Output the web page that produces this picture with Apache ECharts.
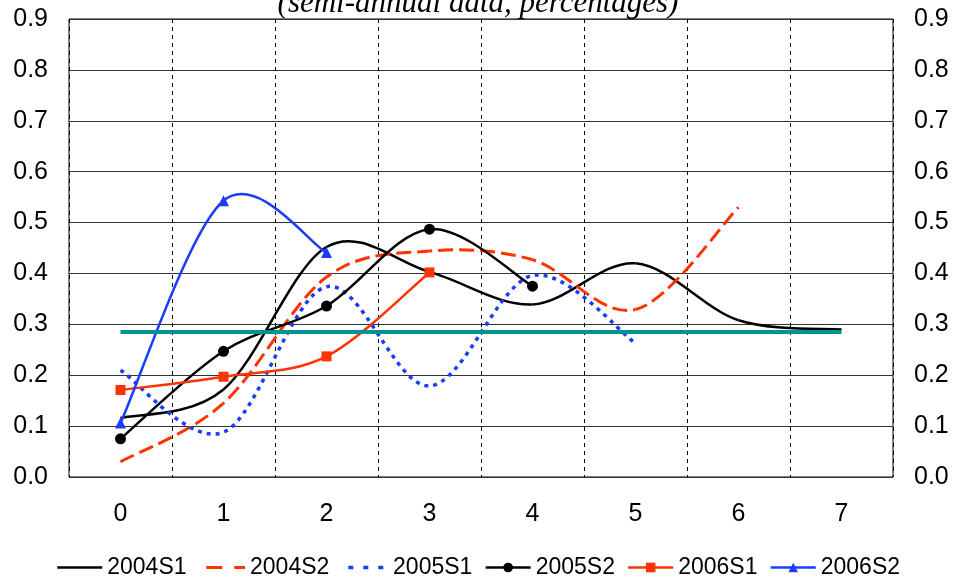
<!DOCTYPE html>
<html>
<head>
<meta charset="utf-8">
<script src="https://cdn.jsdelivr.net/npm/echarts@6/dist/echarts.min.js"></script>
<style>
html,body{margin:0;padding:0;background:#fff;}
#chart{width:956px;height:581px;}
</style>
</head>
<body>
<div id="chart"></div>
<script>
var categories = ['0', '1', '2', '3', '4', '5', '6', '7'];
var s2004S1 = [0.116, 0.172, 0.452, 0.403, 0.339, 0.42, 0.308, 0.29];
var s2004S2 = [0.03, 0.145, 0.393, 0.444, 0.427, 0.329, 0.53];
var s2005S1 = [0.21, 0.088, 0.374, 0.179, 0.396, 0.263];
var s2005S2 = [0.075, 0.247, 0.336, 0.487, 0.375];
var s2006S1 = [0.171, 0.197, 0.237, 0.402];
var s2006S2 = [0.106, 0.543, 0.441];
var average = [0.285, 0.285, 0.285, 0.285, 0.285, 0.285, 0.285, 0.285];

var RED = '#ff3300', BLUE = '#1a3cff', TEAL = '#009490';
var FONT = 'Liberation Sans';

// length of a cubic bezier, used to keep the dash pattern running across segments
function bezierLength(a, b, c, d) {
    var len = 0, px = a[0], py = a[1];
    for (var s = 1; s <= 20; s++) {
        var t = s / 20, u = 1 - t;
        var x = u*u*u*a[0] + 3*u*u*t*b[0] + 3*u*t*t*c[0] + t*t*t*d[0];
        var y = u*u*u*a[1] + 3*u*u*t*b[1] + 3*u*t*t*c[1] + t*t*t*d[1];
        len += Math.sqrt((x-px)*(x-px) + (y-py)*(y-py));
        px = x; py = y;
    }
    return len;
}

// spreadsheet style smoothed line (control points at 1/6 of the neighbour chord)
function curveSeries(values, color, width, dash) {
    return {
        type: 'custom',
        silent: true,
        z: 3,
        data: values.map(function (v, i) { return [i, v]; }),
        renderItem: function (params, api) {
            if (params.dataIndex !== 0) return null;
            var n = values.length, pts = [];
            for (var k = 0; k < n; k++) pts.push(api.coord([k, values[k]]));
            var children = [], offset = 0;
            for (var i = 0; i < n - 1; i++) {
                var p0 = pts[Math.max(i - 1, 0)], p1 = pts[i], p2 = pts[i + 1], p3 = pts[Math.min(i + 2, n - 1)];
                var c1 = [p1[0] + (p2[0] - p0[0]) / 6, p1[1] + (p2[1] - p0[1]) / 6];
                var c2 = [p2[0] - (p3[0] - p1[0]) / 6, p2[1] - (p3[1] - p1[1]) / 6];
                children.push({
                    type: 'bezierCurve',
                    shape: { x1: p1[0], y1: p1[1], x2: p2[0], y2: p2[1], cpx1: c1[0], cpy1: c1[1], cpx2: c2[0], cpy2: c2[1] },
                    style: { stroke: color, lineWidth: width, fill: 'none', lineDash: dash || null, lineDashOffset: offset }
                });
                offset += bezierLength(p1, c1, c2, p2);
            }
            return { type: 'group', children: children };
        }
    };
}

// marker + legend holder; its own line is hidden, the curve is drawn by curveSeries
function markSeries(name, values, color, symbol, size) {
    return {
        name: name, type: 'line', data: values, z: 4,
        symbol: symbol || 'none', symbolSize: size || 0,
        lineStyle: { color: color, width: 0 },
        itemStyle: { color: color }
    };
}

var myChar = echarts.init(document.getElementById('chart'));
var myOption = {
    animation: false,
    title: {
        text: '(semi-annual data, percentages)',
        left: 'center',
        top: -17,
        textStyle: {
            fontFamily: 'Liberation Serif',
            fontStyle: 'italic',
            fontWeight: 'normal',
            fontSize: 31,
            color: '#000'
        }
    },
    grid: {
        left: 69, right: 63, top: 19, bottom: 104,
        show: true,
        borderColor: '#000',
        borderWidth: 1
    },
    legend: {
        top: 551,
        left: 'center',
        itemWidth: 45,
        itemHeight: 12,
        itemGap: 12,
        textStyle: { fontFamily: FONT, fontSize: 23, color: '#000' },
        data: [
            { name: '2004S1', lineStyle: { width: 2.5 }, itemStyle: { opacity: 0 } },
            { name: '2004S2', lineStyle: { width: 3, type: [16, 12] }, itemStyle: { opacity: 0 } },
            { name: '2005S1', lineStyle: { width: 3.5, type: [5, 10] }, itemStyle: { opacity: 0 } },
            { name: '2005S2', lineStyle: { width: 2.5 } },
            { name: '2006S1', lineStyle: { width: 2.5 } },
            { name: '2006S2', lineStyle: { width: 2.5 } }
        ]
    },
    xAxis: {
        type: 'category',
        data: categories,
        boundaryGap: true,
        axisLine: { show: false },
        axisTick: { show: false },
        axisLabel: { fontFamily: FONT, fontSize: 25, color: '#000', margin: 25 },
        splitLine: { show: true, lineStyle: { color: '#000', type: [4, 4], width: 1 } }
    },
    yAxis: [{
        type: 'value', min: 0, max: 0.9, interval: 0.1,
        axisLine: { show: false },
        axisTick: { show: false },
        axisLabel: {
            fontFamily: FONT, fontSize: 25, color: '#000', margin: 21,
            formatter: function (v) { return v.toFixed(1); }
        },
        splitLine: { lineStyle: { color: '#333', width: 1 } }
    }, {
        type: 'value', min: 0, max: 0.9, interval: 0.1, position: 'right',
        axisLine: { show: false },
        axisTick: { show: false },
        axisLabel: {
            fontFamily: FONT, fontSize: 25, color: '#000', margin: 21,
            formatter: function (v) { return v.toFixed(1); }
        },
        splitLine: { show: false }
    }],
    series: [
        markSeries('2004S1', s2004S1, '#000'),
        markSeries('2004S2', s2004S2, RED),
        markSeries('2005S1', s2005S1, BLUE),
        markSeries('2005S2', s2005S2, '#000', 'circle', 11),
        markSeries('2006S1', s2006S1, RED, 'rect', 10),
        markSeries('2006S2', s2006S2, BLUE, 'triangle', 11),
        curveSeries(s2004S1, '#000', 2.5),
        curveSeries(s2004S2, RED, 3, [15, 6]),
        curveSeries(s2005S1, BLUE, 3.5, [4, 5]),
        curveSeries(s2005S2, '#000', 2.5),
        curveSeries(s2006S1, RED, 2.5),
        curveSeries(s2006S2, BLUE, 2.5),
        {
            name: 'average', type: 'line', data: average, symbol: 'none', z: 5,
            lineStyle: { color: TEAL, width: 4 }, itemStyle: { color: TEAL }
        }
    ]
};
myChar.setOption(myOption);
</script>
</body>
</html>
